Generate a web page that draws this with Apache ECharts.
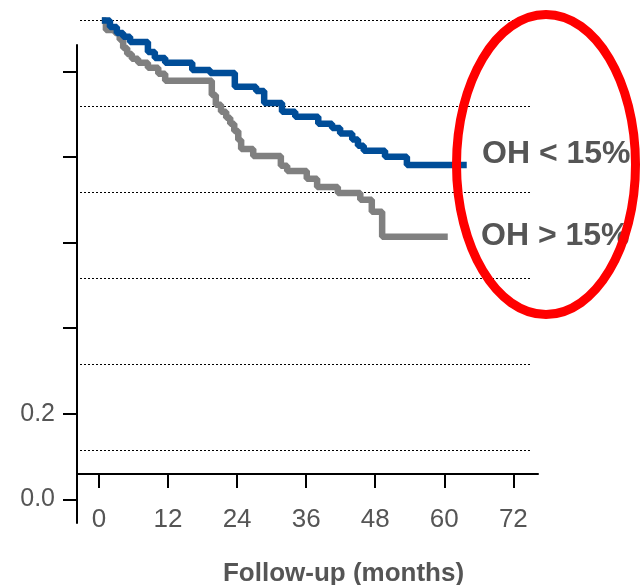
<!DOCTYPE html>
<html>
<head>
<meta charset="utf-8">
<script src="https://cdn.jsdelivr.net/npm/echarts@6/dist/echarts.min.js"></script>
<style>
  html, body { margin: 0; padding: 0; background: #fff; }
  #chart { width: 640px; height: 585px; }
</style>
</head>
<body>
<div id="chart"></div>
<script>
// Follow-up axis ticks (months) and survival axis ticks
const monthTicks = [0, 12, 24, 36, 48, 60, 72];
const survivalTicks = [0, 0.2, 0.4, 0.6, 0.8, 1.0];
const survivalLabels = [0, 0.2];

// Kaplan-Meier steps: event time (months) and survival after that event
const ohLowTime = [0.5, 1.9, 3.1, 4.2, 5.4, 8.5, 9.7, 11.5, 16.2, 19.3, 23.6, 27.3, 28.7, 31.8, 34.1, 38.1, 40.5, 41.9, 44.0, 45.0, 46.0, 49.7, 53.5, 63.9];
const ohLowSurv = [1.0, 0.985, 0.971, 0.962, 0.950, 0.927, 0.913, 0.902, 0.885, 0.878, 0.846, 0.836, 0.808, 0.788, 0.776, 0.760, 0.750, 0.737, 0.723, 0.709, 0.697, 0.683, 0.664, 0.664];

const ohHighTime = [0.5, 1.2, 2.8, 3.6, 4.2, 4.9, 5.7, 6.8, 8.5, 10.3, 11.5, 19.6, 20.3, 21.2, 22.1, 22.8, 23.5, 24.2, 24.7, 26.8, 31.6, 32.7, 36.1, 37.9, 41.5, 45.4, 47.4, 49.2, 60.6];
const ohHighSurv = [1.0, 0.978, 0.971, 0.955, 0.936, 0.922, 0.911, 0.902, 0.890, 0.876, 0.860, 0.827, 0.804, 0.788, 0.774, 0.760, 0.743, 0.722, 0.701, 0.685, 0.662, 0.650, 0.632, 0.613, 0.599, 0.583, 0.555, 0.497, 0.497];

const groupNames = ['OH < 15%', 'OH > 15%'];

const pairs = (xs, ys) => xs.map((x, i) => [x, ys[i]]);

const FONT = '"Liberation Sans", Arial, sans-serif';
const TEXT = '#555555';

const chart = echarts.init(document.getElementById('chart'), null, { renderer: 'canvas' });

chart.setOption({
  animation: false,
  backgroundColor: '#ffffff',
  grid: [
    // vertical survival axis
    { left: 77, top: 45, width: 461, height: 478 },
    // horizontal follow-up axis
    { left: 77, top: 45, width: 461, height: 429 },
    // plotting area for the curves and dotted reference lines
    { left: 80, top: 20.5, width: 450, height: 430 }
  ],
  xAxis: [
    { gridIndex: 0, type: 'value', show: false, min: 0, max: 1 },
    {
      gridIndex: 1, type: 'value',
      min: (77 - 99) / 5.755, max: (538 - 99) / 5.755,
      axisLine: { show: true, lineStyle: { color: '#000', width: 2 } },
      axisTick: { show: true, length: 14, lineStyle: { color: '#000', width: 2 }, customValues: monthTicks },
      axisLabel: { show: true, customValues: monthTicks, margin: 33, fontSize: 26, fontFamily: FONT, color: TEXT },
      splitLine: { show: false }
    },
    { gridIndex: 2, type: 'value', show: false, min: (80 - 99) / 5.755, max: (530 - 99) / 5.755 }
  ],
  yAxis: [
    {
      gridIndex: 0, type: 'value',
      min: (499.3 - 523) / 428, max: (499.3 - 45) / 428,
      axisLine: { show: true, lineStyle: { color: '#000', width: 2 } },
      axisTick: { show: true, length: 14, lineStyle: { color: '#000', width: 2 }, customValues: survivalTicks },
      axisLabel: {
        show: true, customValues: survivalLabels, margin: 22,
        fontSize: 25, fontFamily: FONT, color: TEXT,
        formatter: v => v.toFixed(1)
      },
      splitLine: { show: false }
    },
    { gridIndex: 1, type: 'value', show: false, min: 0, max: 1 },
    {
      gridIndex: 2, type: 'value', min: 0, max: 1, interval: 0.2,
      axisLine: { show: false }, axisTick: { show: false }, axisLabel: { show: false },
      splitLine: { show: true, lineStyle: { color: '#000', width: 1, type: [2, 2] } }
    }
  ],
  series: [
    {
      name: groupNames[1], type: 'line', step: 'end',
      xAxisIndex: 2, yAxisIndex: 2, clip: false,
      symbol: 'none', data: pairs(ohHighTime, ohHighSurv),
      lineStyle: { color: '#808080', width: 6.5 }
    },
    {
      name: groupNames[0], type: 'line', step: 'end',
      xAxisIndex: 2, yAxisIndex: 2, clip: false,
      symbol: 'none', data: pairs(ohLowTime, ohLowSurv),
      lineStyle: { color: '#004D98', width: 6.5 }
    }
  ],
  graphic: [
    {
      type: 'text', x: 482, y: 154,
      style: { text: groupNames[0], font: 'bold 32px ' + FONT, fill: TEXT, textAlign: 'left', textVerticalAlign: 'middle' }
    },
    {
      type: 'text', x: 481, y: 236,
      style: { text: groupNames[1], font: 'bold 32px ' + FONT, fill: TEXT, textAlign: 'left', textVerticalAlign: 'middle' }
    },
    {
      type: 'text', x: 343.5, y: 574,
      style: { text: 'Follow-up (months)', font: 'bold 26px ' + FONT, fill: TEXT, textAlign: 'center', textVerticalAlign: 'middle' }
    },
    {
      type: 'ellipse', z: 100,
      shape: { cx: 546, cy: 164.5, rx: 89.5, ry: 150 },
      style: { fill: 'none', stroke: '#FF0000', lineWidth: 9 }
    }
  ]
});
</script>
</body>
</html>
